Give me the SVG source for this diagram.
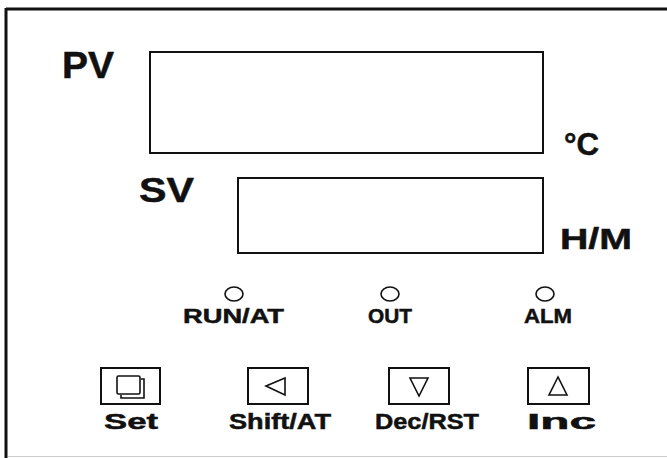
<svg xmlns="http://www.w3.org/2000/svg" width="667" height="458" viewBox="0 0 667 458">
<style>
.t{font-family:"Liberation Sans",Arial,sans-serif;font-weight:bold;fill:#111;stroke:#111;stroke-width:0.5}
.box{fill:none;stroke:#111;stroke-width:2}
.led{fill:none;stroke:#111;stroke-width:1.6}
.ic{fill:none;stroke:#111;stroke-width:1.6}
</style>
<rect width="667" height="458" fill="#fff"/>
<g id="frame">
<line x1="6" y1="9" x2="667" y2="9" stroke="#111" stroke-width="3"/>
<line x1="6" y1="8" x2="6" y2="458" stroke="#111" stroke-width="3"/>
<line x1="8" y1="456.5" x2="667" y2="456.5" stroke="#ccc" stroke-width="1"/>
</g>
<g id="pv">
<text class="t" x="62" y="78" font-size="36" textLength="52" lengthAdjust="spacingAndGlyphs">PV</text>
<rect class="box" x="150" y="52" width="393" height="101"/>
<text class="t" x="564" y="155" font-size="31" textLength="35" lengthAdjust="spacingAndGlyphs">°C</text>
</g>
<g id="sv">
<text class="t" x="139" y="202" font-size="35" textLength="55" lengthAdjust="spacingAndGlyphs">SV</text>
<rect class="box" x="238" y="178" width="305" height="75"/>
<text class="t" x="560" y="249" font-size="30" textLength="72" lengthAdjust="spacingAndGlyphs">H/M</text>
</g>
<g id="led-run">
<ellipse class="led" cx="234" cy="294" rx="9" ry="7"/>
<text class="t" x="183" y="323" font-size="21" textLength="101" lengthAdjust="spacingAndGlyphs">RUN/AT</text>
</g>
<g id="led-out">
<ellipse class="led" cx="390" cy="294" rx="9" ry="7"/>
<text class="t" x="368" y="323" font-size="21" textLength="44" lengthAdjust="spacingAndGlyphs">OUT</text>
</g>
<g id="led-alm">
<ellipse class="led" cx="545" cy="294" rx="9" ry="7"/>
<text class="t" x="524" y="323" font-size="21" textLength="48" lengthAdjust="spacingAndGlyphs">ALM</text>
</g>
<g id="btn-set">
<rect class="box" x="101" y="368" width="59" height="36"/>
<rect class="ic" x="117" y="376" width="23" height="18" rx="1.5"/>
<path class="ic" d="M141 379 H144 V398 H121 V395" stroke-width="2"/>
<text class="t" x="104" y="429" font-size="22" textLength="54" lengthAdjust="spacingAndGlyphs">Set</text>
</g>
<g id="btn-shift">
<rect class="box" x="248" y="368" width="60" height="36"/>
<polygon class="ic" points="266,386 285,378 285,395"/>
<text class="t" x="229" y="429" font-size="22" textLength="102" lengthAdjust="spacingAndGlyphs">Shift/AT</text>
</g>
<g id="btn-dec">
<rect class="box" x="389" y="368" width="60" height="36"/>
<polygon class="ic" points="410,378 428,378 419,396"/>
<text class="t" x="375" y="429" font-size="22" textLength="104" lengthAdjust="spacingAndGlyphs">Dec/RST</text>
</g>
<g id="btn-inc">
<rect class="box" x="528" y="368" width="61" height="36"/>
<polygon class="ic" points="558,377 549,395 567,395"/>
<text class="t" x="527" y="429" font-size="22" textLength="69" lengthAdjust="spacingAndGlyphs">Inc</text>
</g>
</svg>
